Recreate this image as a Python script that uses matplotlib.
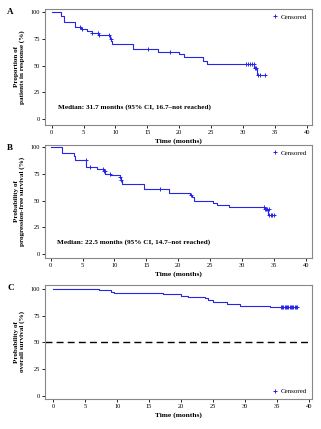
import matplotlib
matplotlib.use("Agg")
import matplotlib.pyplot as plt

plt.rcParams['font.family'] = ['Liberation Serif', 'DejaVu Serif']

# Panel A: duration of response
a_time = [0, 1.4, 1.9, 3.7, 4.6, 5.6, 6.3, 7.2, 9.2, 9.3, 9.4, 12.8, 16.6, 20.0, 20.7, 23.7, 24.4, 31.7, 32.2, 33.5]
a_surv = [100, 96.5, 91, 86, 84, 82.5, 80.5, 78.5, 75, 73, 70, 65.5, 63, 61, 58, 54.5, 51, 47.5, 41, 41]
a_cens_t = [4.5, 4.8, 6.4, 7.2, 7.4, 9.0, 9.3, 15.1, 18.5, 30.4, 30.8, 31.1, 31.4, 31.7, 31.9, 32.1, 32.4, 32.7, 33.5]
a_cens_s = [86, 84, 80.5, 80.5, 78.5, 78.5, 75, 65.5, 63, 51, 51, 51, 51, 51, 47.5, 47.5, 41, 41, 41]

# Panel B: progression-free survival
b_time = [0, 1.8, 3.6, 3.8, 5.5, 7.2, 8.4, 8.6, 9.3, 10.8, 11.0, 11.2, 14.6, 18.6, 21.8, 22.2, 22.5, 25.4, 26.1, 28.0, 33.6, 34.1, 35.2]
b_surv = [100, 94.5, 92, 88, 81.5, 79.5, 77.5, 75, 74, 72, 69, 65.5, 61, 57, 55, 53, 50, 48, 46, 44, 42.5, 36.5, 36.5]
b_cens_t = [5.5, 6.1, 8.2, 8.4, 8.5, 9.3, 10.9, 11.1, 17.1, 22.0, 33.4, 33.6, 33.8, 34.0, 34.2, 34.3, 34.5, 34.8, 35.1]
b_cens_s = [88, 81.5, 79.5, 77.5, 77.5, 75, 72, 69, 61, 55, 44, 42.5, 42.5, 42.5, 42.5, 36.5, 36.5, 36.5, 36.5]

# Panel C: overall survival
c_time = [0, 7.1, 9.1, 9.5, 17.2, 20.0, 21.1, 23.7, 24.2, 25.0, 27.2, 29.3, 34.0, 38.2]
c_surv = [100, 98.5, 97, 96, 95, 93, 92, 91, 90, 87.5, 86, 84, 83, 83]
c_cens_t = [35.6, 35.8, 36.0, 36.2, 36.4, 36.6, 36.8, 37.0, 37.2, 37.4, 37.6, 37.8, 38.0, 38.2]
c_cens_s = [83] * len(c_cens_t)

blue = '#2626e8'
gray = '#888888'

fig = plt.figure(figsize=(3.21, 4.29), dpi=100)

panels = [
    ('A', [0.140, 0.709, 0.832, 0.270], a_time, a_surv, a_cens_t, a_cens_s,
     'Proportion of\npatients in response (%)', (-1.05, 40.8), (-5.6, 103),
     'Median: 31.7 months (95% CI, 16.7\u2013not reached)', 'upper right'),
    ('B', [0.140, 0.399, 0.832, 0.263], b_time, b_surv, b_cens_t, b_cens_s,
     'Probability of\nprogression-free survival (%)', (-0.9, 41.0), (-3.75, 102.2),
     'Median: 22.5 months (95% CI, 14.7\u2013not reached)', 'upper right'),
    ('C', [0.140, 0.070, 0.832, 0.266], c_time, c_surv, c_cens_t, c_cens_s,
     'Probability of\noverall survival (%)', (-1.3, 40.5), (-2.8, 103.7),
     None, 'lower right'),
]

for letter, pos, t, s, ct, cs, ylab, xl, yl, med, legloc in panels:
    ax = fig.add_axes(pos)
    ax.plot(t, s, drawstyle='steps-post', color=blue, lw=0.8)
    ax.plot(ct, cs, '+', color=blue, ms=3, mew=0.7, label='Censored')
    if letter == 'C':
        ax.axhline(50, color='black', lw=1.0, ls=(0, (5, 3)))
    ax.set_xlim(xl)
    ax.set_ylim(yl)
    ax.set_xticks(range(0, 41, 5))
    ax.set_yticks([0, 25, 50, 75, 100])
    ax.tick_params(labelsize=4.6, length=2, width=0.6, pad=1.5)
    for sp in ax.spines.values():
        sp.set_color(gray)
        sp.set_linewidth(0.8)
    ax.set_xlabel('Time (months)', fontsize=5.4, fontweight='bold', labelpad=2.5)
    ax.set_ylabel(ylab, fontsize=5.1, fontweight='bold', labelpad=4, linespacing=1.1)
    if med:
        ax.text(1.0, 10, med, fontsize=5.2, fontweight='bold')
    ax.legend(loc=legloc, frameon=False, fontsize=5, handlelength=0.8,
              handletextpad=0.4, borderaxespad=0.3)
    fig.text(0.022, pos[1] + pos[3] - 0.012, letter, fontsize=6.5, fontweight='bold')

fig.savefig('out.png', dpi=100)
